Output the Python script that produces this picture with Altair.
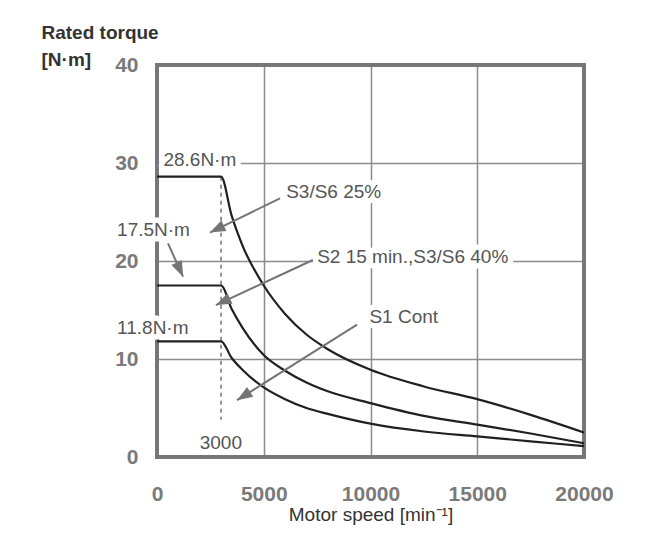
import math
import altair as alt
import pandas as pd

# ---------------- data ----------------
speed = [0, 3000, 3500, 4000, 5000, 6000, 7000, 8000, 10000, 12500, 15000, 17500, 20000]
s3_25 = [28.6, 28.6, 24.6, 21.6, 17.5, 14.6, 12.5, 11.0, 8.9, 7.2, 5.9, 4.3, 2.5]
s2_40 = [17.5, 17.5, 15.1, 13.2, 10.4, 8.8, 7.6, 6.7, 5.5, 4.2, 3.3, 2.4, 1.4]
s1_cont = [11.8, 11.8, 10.1, 8.9, 7.1, 5.9, 5.0, 4.4, 3.4, 2.6, 2.1, 1.6, 1.1]

x_ticks = [0, 5000, 10000, 15000, 20000]
y_ticks = [0, 10, 20, 30, 40]

label_text = ["28.6N·m", "17.5N·m", "11.8N·m", "3000", "S3/S6 25%",
              "S2 15 min.,S3/S6 40%", "S1 Cont"]
label_x = [300, -1870, -1870, 2000, 6050, 7500, 9950]
label_y = [30.3, 23.2, 13.2, 1.4, 27.0, 20.4, 14.3]

arrow_x0 = [5760, 515, 7300, 9370]
arrow_y0 = [26.4, 21.8, 20.1, 13.5]
arrow_x1 = [2480, 1220, 2760, 3750]
arrow_y1 = [22.9, 18.4, 15.5, 5.8]

dash_x = [3000]
dash_top = [28.6]
dash_bottom = [3.8]

# ---------------- layout ----------------
W, H = 427, 392
X_MAX, Y_MAX = 20000, 40

curves = pd.DataFrame({
    "speed": speed * 3,
    "torque": s3_25 + s2_40 + s1_cont,
    "series": ["S3/S6 25%"] * len(speed) + ["S2/S3/S6 40%"] * len(speed) + ["S1"] * len(speed),
})

labels = pd.DataFrame({"text": label_text, "x": label_x, "y": label_y})

angles = []
for a, b, c, d in zip(arrow_x0, arrow_y0, arrow_x1, arrow_y1):
    dx = (c - a) * W / X_MAX
    dy = -(d - b) * H / Y_MAX
    angles.append(math.degrees(math.atan2(dx, -dy)) % 360)
arrows = pd.DataFrame({"x0": arrow_x0, "y0": arrow_y0, "x1": arrow_x1, "y1": arrow_y1, "angle": angles})

frame_left = pd.DataFrame({"x": [0], "x2": [0], "y": [0], "y2": [Y_MAX]})
frame_rest = pd.DataFrame({
    "x": [X_MAX, 0, 0], "x2": [X_MAX, X_MAX, X_MAX],
    "y": [0, 0, Y_MAX], "y2": [Y_MAX, 0, Y_MAX],
})
dash = pd.DataFrame({"x": dash_x, "y": dash_top, "y2": dash_bottom})

xs = alt.Scale(domain=[0, X_MAX], nice=False)
ys = alt.Scale(domain=[0, Y_MAX], nice=False)

FONT = "Liberation Sans"
GRAY = "#7a7a7a"

x_axis = alt.Axis(values=x_ticks, format="d", grid=True, gridColor="#8c8c8c", gridWidth=1.5,
                  domain=False, ticks=False, labelFont=FONT, labelFontSize=21,
                  labelFontWeight="bold", labelColor=GRAY, labelPadding=26,
                  labelFlush=False, labelOverlap=False,
                  title="Motor speed [min⁻¹]", titleFont=FONT, titleFontSize=19,
                  titleFontWeight="normal", titleColor="#333333", titleY=63,
                  titleBaseline="alphabetic")
y_axis = alt.Axis(values=y_ticks, grid=True, gridColor="#8c8c8c", gridWidth=1.5,
                  domain=False, ticks=False, labelFont=FONT, labelFontSize=21,
                  labelFontWeight="bold", labelColor=GRAY, labelPadding=19,
                  labelFlush=False, labelOverlap=False,
                  title=["Rated torque", "[N·m]"], titleAngle=0, titleAlign="left",
                  titleBaseline="alphabetic", titleX=-116, titleY=-27, titleLineHeight=27,
                  titleFont=FONT, titleFontSize=19, titleFontWeight="bold", titleColor="#333333")


def X(field):
    return alt.X(field, type="quantitative", scale=xs, axis=x_axis)


def Y(field):
    return alt.Y(field, type="quantitative", scale=ys, axis=y_axis)


frame_left_layer = alt.Chart(frame_left).mark_rule(
    color="#777777", strokeWidth=4, strokeCap="square").encode(
    x=X("x"), x2="x2:Q", y=Y("y"), y2="y2:Q")

halo = alt.Chart(labels).mark_text(
    align="left", baseline="middle", font=FONT, fontSize=19, color="white",
    stroke="white", strokeWidth=11, strokeJoin="round",
).encode(x=X("x"), y=Y("y"), text="text:N")

frame_rest_layer = alt.Chart(frame_rest).mark_rule(
    color="#777777", strokeWidth=4, strokeCap="square").encode(
    x=X("x"), x2="x2:Q", y=Y("y"), y2="y2:Q")

dash_layer = alt.Chart(dash).mark_rule(color="#666666", strokeWidth=1.4, strokeDash=[4, 4]).encode(
    x=X("x"), y=Y("y"), y2="y2:Q")

curve_layer = alt.Chart(curves).mark_line(color="#231f20", strokeWidth=2.2, interpolate="monotone").encode(
    x=X("speed"), y=Y("torque"), detail="series:N")

shafts = alt.Chart(arrows).mark_rule(color="#747474", strokeWidth=2).encode(
    x=X("x0"), y=Y("y0"), x2="x1:Q", y2="y1:Q")

heads = alt.Chart(arrows).mark_point(
    shape="M0,0L0.75,2L-0.75,2Z", filled=True, color="#747474", opacity=1, size=240,
).encode(x=X("x1"), y=Y("y1"), angle=alt.Angle("angle:Q", scale=None))

text_layer = alt.Chart(labels).mark_text(
    align="left", baseline="middle", font=FONT, fontSize=19, color="#555555",
).encode(x=X("x"), y=Y("y"), text="text:N")

chart = alt.layer(
    frame_left_layer, halo, frame_rest_layer, dash_layer, curve_layer, shafts, heads, text_layer
).properties(
    width=W, height=H,
    padding={"left": 149, "top": 57, "right": 62, "bottom": 70},
    autosize=alt.AutoSizeParams(type="none"),
).configure_view(strokeWidth=0).configure(background="white")

chart.save("out.html", embed_options={"renderer": "svg", "actions": False})
